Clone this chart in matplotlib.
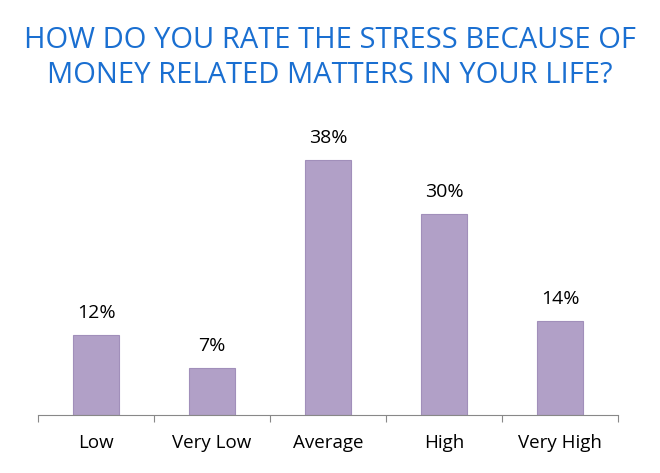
import matplotlib.pyplot as plt
import numpy as np

categories = ["Low", "Very Low", "Average", "High", "Very High"]
values = [12, 7, 38, 30, 14]

plt.rcParams["font.family"] = ["Open Sans", "DejaVu Sans"]

fig = plt.figure(figsize=(6.6, 4.73), dpi=100)
ax = fig.add_axes([0.0576, 0.1226, 0.879, 0.567])

x = np.arange(len(categories))
ax.bar(x, values, width=0.40, color="#b1a0c7", edgecolor="#a18fba", linewidth=0.8)
for xi, v in zip(x, values):
    ax.text(xi, v + 1.9, f"{v}%", ha="center", va="bottom", fontsize=14, color="black")

ax.set_xlim(-0.5, len(categories) - 0.5)
ax.set_ylim(0, 40)
ax.set_yticks([])
for s in ["top", "right", "left"]:
    ax.spines[s].set_visible(False)
ax.spines["bottom"].set_color("#888888")
ax.set_xticks(np.arange(-0.5, len(categories)), minor=False)
ax.set_xticklabels([""] * (len(categories) + 1))
ax.tick_params(axis="x", which="major", length=5, color="#888888", direction="out")
ax.set_xticks(x, categories, minor=True)
ax.tick_params(axis="x", which="minor", length=0, labelsize=13.5, pad=14)

fig.text(0.5, 0.877, "HOW DO YOU RATE THE STRESS BECAUSE OF\nMONEY RELATED MATTERS IN YOUR LIFE?",
         ha="center", va="center", fontsize=21, color="#1a6fd1", linespacing=1.3)

fig.savefig("out.png", dpi=100)
